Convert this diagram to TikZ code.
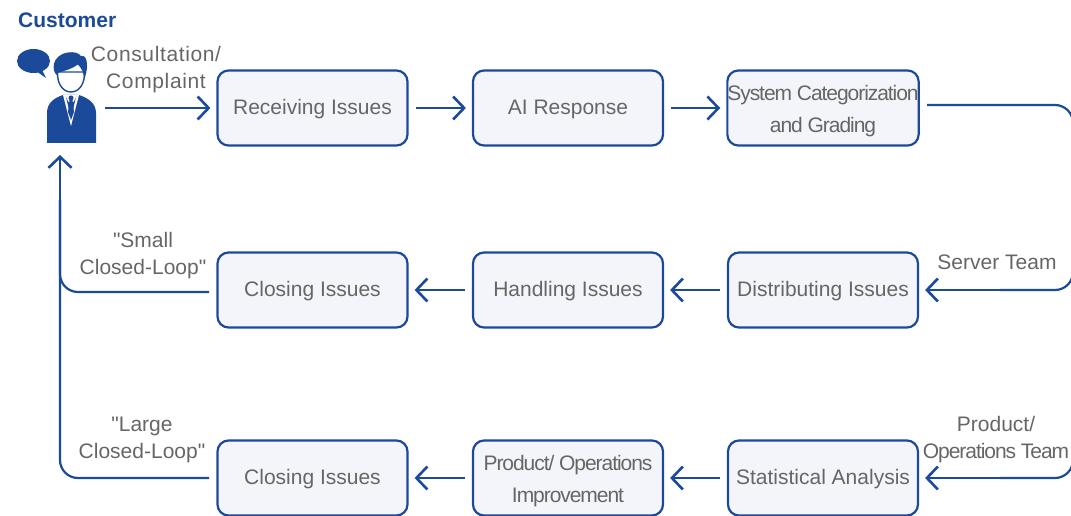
\documentclass[tikz,border=0pt]{standalone}
\usepackage{fontspec}
\setmainfont{Liberation Sans}
\newfontfamily\quotefont{Liberation Sans}
\usetikzlibrary{arrows.meta}
\definecolor{navy}{HTML}{1C4A9A}
\definecolor{txt}{HTML}{666666}
\definecolor{boxfill}{HTML}{F3F5FA}
\newcommand{\tight}{\addfontfeature{LetterSpace=-5}}
\newcommand{\wide}{\addfontfeature{LetterSpace=3}}
\newcommand{\sq}{{\quotefont "}}
\newcommand{\upa}{\rule{0pt}{17pt}}
\newcommand{\upb}{\rule{0pt}{21pt}}
\tikzset{
  stepbox/.style={draw=navy,fill=boxfill,line width=2.2pt,rounded corners=11pt,minimum width=190pt,minimum height=75pt,text=txt,font=\fontsize{21}{32}\selectfont,align=center,inner sep=0pt},
  lab/.style={text=txt,font=\fontsize{21}{27}\selectfont,align=center,inner sep=0pt},
  conn/.style={draw=navy,line width=2.2pt,-{Straight Barb[length=11pt,width=23pt,line width=2.6pt]}},
  plainline/.style={draw=navy,line width=2.2pt,rounded corners=18pt}
}
\begin{document}
\begin{tikzpicture}[x=1pt,y=-1pt]
\useasboundingbox (0,0) rectangle (1071,516);
\clip (0,0) rectangle (1071,516);
\node[inner sep=0pt,anchor=west,text=navy,font=\fontsize{21}{24}\selectfont\bfseries] (title) at (18,20) {Customer};
% icon: speech bubble
\fill[navy] (33.5,61) ellipse (16.5 and 12);
\fill[navy] (36,71) -- (46,78) -- (41,68) -- cycle;
% icon: body
\fill[navy] (47,143) -- (47,113) .. controls (47,103) and (54,98) .. (63,95) -- (79,95) .. controls (88,98) and (96,103) .. (96,113) -- (96,143) -- cycle;
\fill[white] (63,95) -- (71,126) -- (79,95) -- cycle;
\fill[navy] (65.5,95) -- (71,118) -- (76.5,95) -- cycle;
\fill[white] (65,95) -- (68.5,102) -- (73.5,102) -- (77,95) -- (73,95) -- (69,95) -- cycle;
\fill[navy] (71,98) circle (2.5);
\fill[navy] (69.5,100) -- (72.5,100) -- (74,112) -- (71,120) -- (68,112) -- cycle;
% icon: head
\draw[navy,line width=1.4pt,fill=white] (57.5,72) .. controls (57,84) and (63,92) .. (71,92) .. controls (79,92) and (85,84) .. (84.5,72) -- cycle;
\fill[navy] (58,76) .. controls (51,72) and (51,55) .. (68,52.5) .. controls (74,51.5) and (79,53) .. (81,56) .. controls (85,55) and (87,59) .. (87,65) .. controls (87,71) and (86,75) .. (84,79) .. controls (84,73) and (82,69) .. (78,64.5) .. controls (72,69) and (64,71) .. (57.5,73) -- cycle;
\coordinate (custOut) at (105,108);
\coordinate (custIn) at (60,155);
% boxes
\node[stepbox] (r1) at (312.5,108) {\upa Receiving Issues};
\node[stepbox] (r2) at (568,108) {\upa AI Response};
\node[stepbox] (r3) at (823,108) {\upb\tight System Categorization\\\tight and Grading};
\node[stepbox] (m3) at (823,290) {\upa Distributing Issues};
\node[stepbox] (m2) at (568,290) {\upa Handling Issues};
\node[stepbox] (m1) at (312.5,290) {\upa Closing Issues};
\node[stepbox] (b3) at (823,478) {\upa Statistical Analysis};
\node[stepbox] (b2) at (568,478) {\upb\tight Product/ Operations\\\tight Improvement};
\node[stepbox] (b1) at (312.5,478) {\upa Closing Issues};
% labels
\node[lab] (l1) at (156,70) {\wide Consultation/\\\wide Complaint};
\node[lab] (l2) at (143,255.5) {\sq Small\\Closed-Loop\sq};
\node[lab] (l3) at (142,440) {\sq Large\\Closed-Loop\sq};
\node[lab] (l4) at (997,262) {Server Team};
\node[lab] (l5) at (996,440) {Product/\\\tight Operations Team};
% connectors
\draw[conn,shorten >=6pt] (custOut) -- (r1.west);
\draw[conn,shorten <=7pt,shorten >=6pt] (r1.east) -- (r2.west);
\draw[conn,shorten <=7pt,shorten >=6pt] (r2.east) -- (r3.west);
\draw[conn,shorten <=7pt,shorten >=6pt] (m3.west) -- (m2.east);
\draw[conn,shorten <=7pt,shorten >=6pt] (m2.west) -- (m1.east);
\draw[conn,shorten <=7pt,shorten >=6pt] (b3.west) -- (b2.east);
\draw[conn,shorten <=7pt,shorten >=6pt] (b2.west) -- (b1.east);
\coordinate (e1) at (927,105);
\coordinate (e2) at (1073,105);
\coordinate (e3) at (1073,290);
\coordinate (e4) at (1000,290);
\draw[plainline] (e1) -- (e2) -- (e3) -- (e4);
\draw[conn,shorten >=6pt] (e4) -- (m3.east);
\coordinate (f1) at (1073,440);
\coordinate (f2) at (1073,478);
\coordinate (f3) at (1000,478);
\draw[plainline] (f1) -- (f2) -- (f3);
\draw[conn,shorten >=6pt] (f3) -- (b3.east);
\coordinate (g1) at (209,292);
\coordinate (g2) at (60,292);
\coordinate (g3) at (60,478);
\coordinate (g4) at (209,478);
\coordinate (g5) at (60,200);
\draw[plainline] (g1) -- (g2) -- (g5);
\draw[plainline] (g4) -- (g3) -- (g5);
\draw[conn] (g5) -- (custIn);
\end{tikzpicture}
\end{document}
